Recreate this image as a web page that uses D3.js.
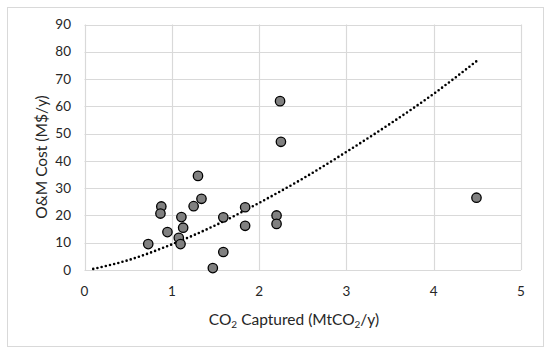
<!DOCTYPE html>
<html>
<head>
	<meta charset="UTF-8" />
	<title>O&M Cost vs CO2 Captured</title>
	<script src="https://d3js.org/d3.v7.min.js"></script>
	<style>
		body { margin: 0; background: #fff; }
		text { font-family: Lato, "Open Sans", sans-serif; fill: #262626; }
	</style>
</head>
<body>
	<div id="main"></div>
	<script type="text/javascript">
		// captured CO2 (Mt/y) and O&M cost (M$/y) for each plant
		var captured = [2.24, 2.25, 1.30, 1.34, 1.25, 0.88, 0.87, 1.11, 1.13, 0.95, 1.08, 1.10, 0.73,
			1.47, 1.59, 1.59, 1.84, 1.84, 2.20, 2.20, 4.49];
		var omCost = [61.9, 47.0, 34.5, 26.1, 23.4, 23.3, 20.7, 19.4, 15.5, 13.9, 11.8, 9.5, 9.5,
			0.7, 6.6, 19.3, 23.0, 16.2, 20.0, 16.9, 26.5];
		// dotted trendline
		var trendX = [0.1, 0.5, 1, 1.5, 2, 2.5, 3, 3.5, 4, 4.5];
		var trendY = [0.4, 3.6, 9.4, 16.4, 24.6, 33.5, 43.3, 53.6, 64.6, 76.8];
		var xTicks = [0, 1, 2, 3, 4, 5];
		var yTicks = [0, 10, 20, 30, 40, 50, 60, 70, 80, 90];

		var width = 550, height = 353;
		var svg = d3.select('#main').append('svg').attr('width', width).attr('height', height);

		// outer frame
		svg.append('rect').attr('x', 7.5).attr('y', 7.5).attr('width', 536).attr('height', 339)
			.attr('fill', '#fff').attr('stroke', '#d9d9d9');

		var x = d3.scaleLinear().domain([0, 5]).range([84.5, 521]);
		var y = d3.scaleLinear().domain([0, 90]).range([270, 24.5]);

		var grid = svg.append('g');
		grid.selectAll('.vg').data(xTicks).enter().append('line')
			.attr('x1', d => Math.round(x(d)) + 0.5).attr('x2', d => Math.round(x(d)) + 0.5)
			.attr('y1', y(90)).attr('y2', y(0))
			.attr('stroke', '#d9d9d9').attr('stroke-width', 1.2);
		grid.selectAll('.hg').data(yTicks).enter().append('line')
			.attr('y1', d => Math.round(y(d)) + 0.5).attr('y2', d => Math.round(y(d)) + 0.5)
			.attr('x1', x(0)).attr('x2', x(5))
			.attr('stroke', '#d9d9d9').attr('stroke-width', 1.2);

		// tick labels
		svg.selectAll('.xt').data(xTicks).enter().append('text')
			.attr('x', d => x(d)).attr('y', 296).attr('text-anchor', 'middle')
			.attr('font-size', '13.5px').text(d => d);
		svg.selectAll('.yt').data(yTicks).enter().append('text')
			.attr('x', 71).attr('y', d => y(d) + 4.7).attr('text-anchor', 'end')
			.attr('font-size', '13.5px').text(d => d);

		// axis titles
		var xt = svg.append('text').attr('x', 294).attr('y', 325).attr('text-anchor', 'middle')
			.attr('font-size', '15.5px');
		xt.append('tspan').text('CO');
		xt.append('tspan').attr('font-size', '10px').attr('dy', 3).text('2');
		xt.append('tspan').attr('dy', -3).text(' Captured (MtCO');
		xt.append('tspan').attr('font-size', '10px').attr('dy', 3).text('2');
		xt.append('tspan').attr('dy', -3).text('/y)');

		svg.append('text').attr('transform', 'translate(47,157) rotate(-90)')
			.attr('text-anchor', 'middle').attr('font-size', '15.5px').text('O&M Cost (M$/y)');

		// trendline
		var line = d3.line().x(d => x(d[0])).y(d => y(d[1])).curve(d3.curveMonotoneX);
		svg.append('path').datum(d3.zip(trendX, trendY))
			.attr('d', line).attr('fill', 'none').attr('stroke', '#000')
			.attr('stroke-width', 2.6).attr('stroke-dasharray', '0 4.3').attr('stroke-linecap', 'round');

		// points
		svg.selectAll('.pt').data(d3.zip(captured, omCost)).enter().append('circle')
			.attr('cx', d => x(d[0])).attr('cy', d => y(d[1])).attr('r', 4.7)
			.attr('fill', '#808080').attr('stroke', '#000').attr('stroke-width', 1.3);
	</script>
</body>
</html>
